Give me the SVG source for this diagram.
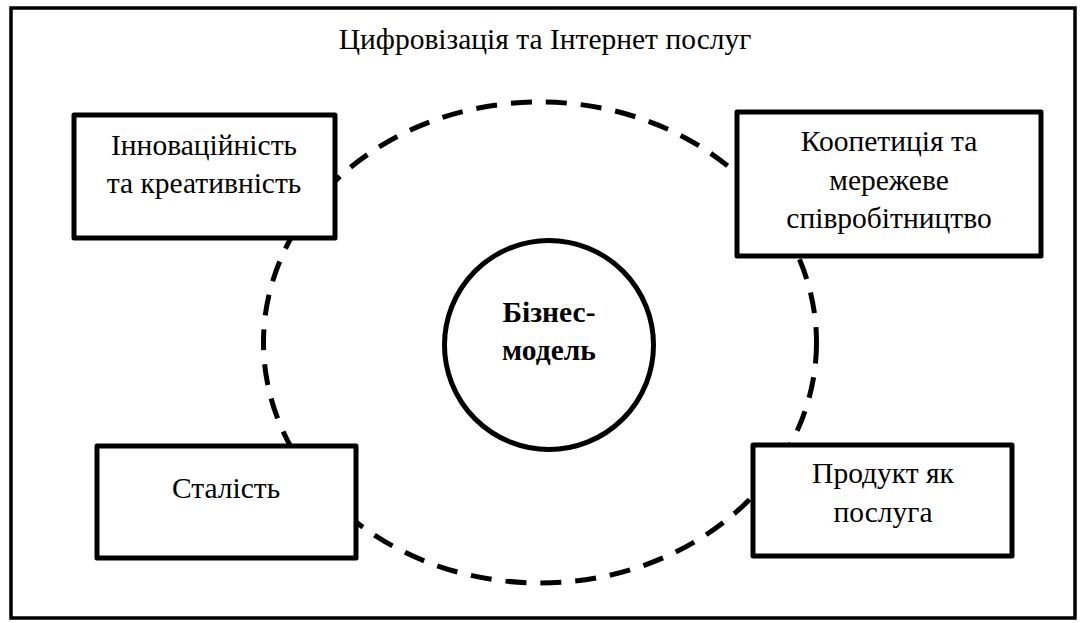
<svg xmlns="http://www.w3.org/2000/svg" width="1080" height="623" viewBox="0 0 1080 623">
  <style>
    .frame { fill: #ffffff; stroke: #000000; stroke-width: 3.5; }
    .box { fill: #ffffff; stroke: #000000; stroke-width: 5; stroke-linejoin: round; }
    .ring { fill: none; stroke: #000000; stroke-width: 5; stroke-dasharray: 21 14; }
    .core { fill: #ffffff; stroke: #000000; stroke-width: 5; }
    .t { font-family: 'Liberation Serif', 'Times New Roman', serif; font-size: 29.5px; fill: #000000; text-anchor: middle; }
    .bold { font-weight: bold; }
  </style>

  <!-- outer frame and caption -->
  <rect class="frame" x="11" y="8" width="1064" height="610"/>
  <text class="t" x="545" y="49">Цифровізація та Інтернет послуг</text>

  <!-- dashed ring linking the surrounding factors -->
  <g id="connectors">
    <ellipse class="ring" cx="540" cy="342.5" rx="276.5" ry="240.5"/>
  </g>

  <g id="node-core">
    <circle class="core" cx="549" cy="345" r="104.5"/>
    <text class="t bold" x="549" y="322">Бізнес-</text>
    <text class="t bold" x="549" y="360">модель</text>
  </g>

  <g id="node-innovation">
    <rect class="box" x="74" y="115" width="261" height="123"/>
    <text class="t" x="204" y="155">Інноваційність</text>
    <text class="t" x="204" y="193">та креативність</text>
  </g>

  <g id="node-coopetition">
    <rect class="box" x="737" y="112" width="304" height="144"/>
    <text class="t" x="889" y="151">Коопетиція та</text>
    <text class="t" x="889" y="190">мережеве</text>
    <text class="t" x="889" y="228">співробітництво</text>
  </g>

  <g id="node-sustainability">
    <rect class="box" x="97" y="446" width="259" height="112"/>
    <text class="t" x="226" y="498">Сталість</text>
  </g>

  <g id="node-product">
    <rect class="box" x="753" y="445" width="259" height="111"/>
    <text class="t" x="883" y="483">Продукт як</text>
    <text class="t" x="883" y="522">послуга</text>
  </g>
</svg>
